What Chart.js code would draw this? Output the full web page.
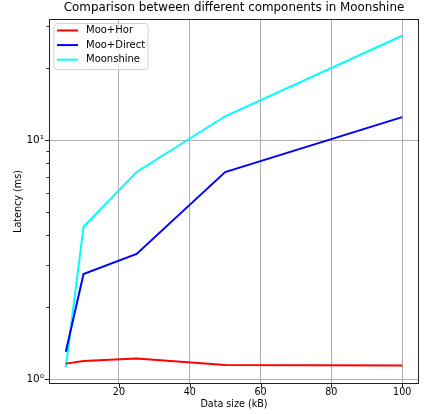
<!DOCTYPE html>
<html>
<head>
<meta charset="utf-8">
<script src="https://cdn.jsdelivr.net/npm/chart.js@4/dist/chart.umd.min.js"></script>
<style>
  html, body { margin: 0; padding: 0; background: #fff; }
  canvas { display: block; }
</style>
</head>
<body>
<canvas id="chart" width="424" height="414"></canvas>
<script>
// Payload sizes (kB) and measured latency (ms) for each component
const dataSizes = [5, 10, 25, 50, 100];
const mooHor = [1.16, 1.19, 1.22, 1.145, 1.14];
const mooDirect = [1.30, 2.75, 3.34, 7.36, 12.5];
const moonshine = [1.12, 4.34, 7.36, 12.6, 27.4];

const seriesNames = ['Moo+Hor', 'Moo+Direct', 'Moonshine'];
const seriesColors = ['#ff0000', '#0000ff', '#00ffff'];

const xTickValues = [20, 40, 60, 80, 100];
const yMajorTicks = [1, 10];
const yMinorTicks = [2, 3, 4, 5, 6, 7, 8, 9, 20, 30];
const yTickLabels = { 1: '10\u2070', 10: '10\u00b9' };

const FONT = 'DejaVu Sans';

const toPoints = (vals) => dataSizes.map((x, i) => ({ x: x, y: vals[i] }));

// Axes frame, outward tick marks and the boxed legend in the upper-left corner
const decorations = {
  id: 'decorations',
  afterDatasetsDraw(chart) {
    const { ctx, chartArea: a, scales } = chart;
    const xs = scales.x, ys = scales.y;
    ctx.save();

    // tick marks
    ctx.strokeStyle = '#222';
    ctx.lineWidth = 1;
    ctx.beginPath();
    xTickValues.forEach(v => {
      const px = Math.round(xs.getPixelForValue(v)) + 0.5;
      ctx.moveTo(px, a.bottom);
      ctx.lineTo(px, a.bottom + 4);
    });
    yMajorTicks.forEach(v => {
      const py = Math.round(ys.getPixelForValue(v)) + 0.5;
      ctx.moveTo(a.left, py);
      ctx.lineTo(a.left - 4, py);
    });
    yMinorTicks.forEach(v => {
      const py = Math.round(ys.getPixelForValue(v)) + 0.5;
      ctx.moveTo(a.left, py);
      ctx.lineTo(a.left - 2.5, py);
    });
    ctx.stroke();

    // frame
    ctx.strokeStyle = '#222';
    ctx.lineWidth = 1;
    ctx.strokeRect(Math.round(a.left) + 0.5, Math.round(a.top) + 0.5,
                   Math.round(a.right - a.left) - 1, Math.round(a.bottom - a.top) - 1);

    // legend
    const bx = a.left + 5, by = a.top + 4.5, bw = 94, bh = 46, r = 3;
    ctx.beginPath();
    ctx.moveTo(bx + r, by);
    ctx.lineTo(bx + bw - r, by);
    ctx.arcTo(bx + bw, by, bx + bw, by + r, r);
    ctx.lineTo(bx + bw, by + bh - r);
    ctx.arcTo(bx + bw, by + bh, bx + bw - r, by + bh, r);
    ctx.lineTo(bx + r, by + bh);
    ctx.arcTo(bx, by + bh, bx, by + bh - r, r);
    ctx.lineTo(bx, by + r);
    ctx.arcTo(bx, by, bx + r, by, r);
    ctx.closePath();
    ctx.fillStyle = 'rgba(255,255,255,0.8)';
    ctx.fill();
    ctx.strokeStyle = '#d0d0d0';
    ctx.lineWidth = 1;
    ctx.stroke();

    ctx.font = '10px "' + FONT + '"';
    ctx.textBaseline = 'middle';
    ctx.textAlign = 'left';
    chart.data.datasets.forEach((ds, i) => {
      const ry = by + 7 + i * 14.6;
      ctx.strokeStyle = ds.borderColor;
      ctx.lineWidth = 2;
      ctx.beginPath();
      ctx.moveTo(bx + 3, ry);
      ctx.lineTo(bx + 24, ry);
      ctx.stroke();
      ctx.fillStyle = '#000';
      ctx.fillText(ds.label, bx + 32, ry);
    });
    ctx.restore();
  }
};

new Chart(document.getElementById('chart'), {
  type: 'line',
  data: {
    datasets: [
      { label: seriesNames[0], data: toPoints(mooHor), borderColor: seriesColors[0] },
      { label: seriesNames[1], data: toPoints(mooDirect), borderColor: seriesColors[1] },
      { label: seriesNames[2], data: toPoints(moonshine), borderColor: seriesColors[2] }
    ].map(d => Object.assign(d, {
      backgroundColor: d.borderColor,
      borderWidth: 2,
      pointRadius: 0,
      tension: 0,
      fill: false
    }))
  },
  options: {
    responsive: false,
    devicePixelRatio: 1,
    animation: false,
    events: [],
    layout: { padding: { left: 0, right: 5, top: 0, bottom: 0 } },
    plugins: {
      legend: { display: false },
      tooltip: { enabled: false },
      title: {
        display: true,
        fullSize: false,
        text: 'Comparison between different components in Moonshine',
        color: '#000',
        font: { family: FONT, size: 11.9, weight: 'normal', lineHeight: 1.2 },
        padding: { top: 1, bottom: 3.7 }
      }
    },
    scales: {
      x: {
        type: 'linear',
        min: 0.25,
        max: 104.75,
        afterBuildTicks: (s) => { s.ticks = xTickValues.map(v => ({ value: v })); },
        afterFit: (s) => { s.height = 30; },
        grid: { color: '#b0b0b0', lineWidth: 1, drawTicks: false },
        border: { display: false },
        ticks: {
          color: '#000',
          padding: 3,
          maxRotation: 0,
          font: { family: FONT, size: 9.6 },
          callback: (v) => String(v)
        },
        title: {
          display: true,
          text: 'Data size (kB)',
          color: '#000',
          font: { family: FONT, size: 9.6, lineHeight: 1.2 },
          padding: { top: 0, bottom: 4 }
        }
      },
      y: {
        type: 'logarithmic',
        min: 0.953,
        max: 32.2,
        afterBuildTicks: (s) => {
          s.ticks = yMajorTicks.concat(yMinorTicks).sort((p, q) => p - q)
            .map(v => ({ value: v, major: yMajorTicks.includes(v) }));
        },
        afterFit: (s) => { s.width = 49; },
        grid: {
          drawTicks: false,
          lineWidth: 1,
          color: (c) => (c.tick && yMajorTicks.includes(c.tick.value)) ? '#b0b0b0' : 'rgba(0,0,0,0)'
        },
        border: { display: false },
        ticks: {
          color: '#000',
          padding: 5,
          autoSkip: false,
          font: { family: FONT, size: 10.5 },
          callback: (v) => yTickLabels[v] || ''
        },
        title: {
          display: true,
          text: 'Latency (ms)',
          color: '#000',
          font: { family: FONT, size: 9.6, lineHeight: 1.2 },
          padding: { top: 13, bottom: 0 }
        }
      }
    }
  },
  plugins: [decorations]
});
</script>
</body>
</html>
